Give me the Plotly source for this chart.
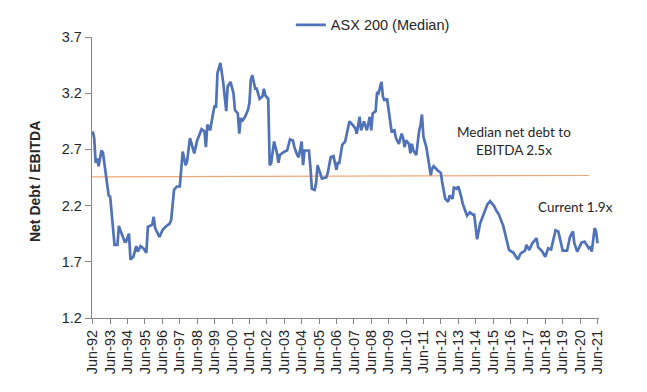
import plotly.graph_objects as go

dates = [
 "1992-06","1992-07","1992-08","1992-09","1992-10","1992-12","1993-01","1993-03","1993-05","1993-06",
 "1993-08","1993-09","1993-11","1993-12","1994-01","1994-04","1994-05","1994-07","1994-08","1994-10",
 "1994-12","1995-01","1995-03","1995-05","1995-07","1995-08","1995-11","1995-12","1996-01","1996-04",
 "1996-06","1996-08","1996-11","1996-12","1997-02","1997-04","1997-06","1997-08","1997-10","1997-11",
 "1998-01","1998-04","1998-06","1998-09","1998-11","1998-12","1999-01","1999-03","1999-04","1999-06",
 "1999-07","1999-08","1999-10","1999-12","2000-02","2000-03","2000-05","2000-07","2000-08","2000-10",
 "2000-11","2000-12","2001-01","2001-03","2001-05","2001-06","2001-07","2001-08","2001-10","2001-11",
 "2002-01","2002-03","2002-04","2002-05","2002-07","2002-08","2002-09","2002-11","2003-01","2003-02",
 "2003-03","2003-06","2003-08","2003-10","2003-12","2004-01","2004-03","2004-04","2004-06","2004-07",
 "2004-08","2004-11","2004-12","2005-01","2005-03","2005-04","2005-05","2005-07","2005-08","2005-11",
 "2005-12","2006-02","2006-04","2006-06","2006-07","2006-08","2006-10","2006-12","2007-03","2007-05",
 "2007-07","2007-08","2007-10","2007-11","2008-01","2008-03","2008-04","2008-05","2008-06","2008-07",
 "2008-09","2008-10","2008-11","2009-01","2009-02","2009-03","2009-05","2009-06","2009-07","2009-08",
 "2009-10","2009-11","2010-01","2010-03","2010-04","2010-05","2010-06","2010-08","2010-09","2010-10",
 "2010-11","2011-01","2011-03","2011-04","2011-05","2011-06","2011-08","2011-09","2011-11","2011-12",
 "2012-01","2012-04","2012-06","2012-07","2012-08","2012-09","2012-11","2012-12","2013-02","2013-03",
 "2013-05","2013-06","2013-08","2013-09","2013-11","2013-12","2014-02","2014-04","2014-05","2014-06",
 "2014-07","2014-09","2014-12","2015-02","2015-04","2015-07","2015-08","2015-10","2016-01","2016-03",
 "2016-05","2016-08","2016-11","2017-01","2017-04","2017-05","2017-07","2017-09","2017-12","2018-01",
 "2018-04","2018-06","2018-08","2018-10","2018-11","2019-01","2019-03","2019-05","2019-06","2019-09",
 "2019-11","2020-01","2020-02","2020-04","2020-06","2020-07","2020-09","2020-12","2021-01","2021-02",
 "2021-04","2021-05","2021-06",
]

asx200_median = [
 2.86,2.80,2.58,2.62,2.55,2.69,2.67,2.46,2.29,2.28,
 1.94,1.85,1.85,2.02,1.98,1.88,1.88,1.95,1.72,1.745,
 1.84,1.79,1.84,1.82,1.78,2.01,2.03,2.10,2.00,1.92,
 1.98,2.01,2.04,2.07,2.34,2.37,2.37,2.68,2.56,2.59,
 2.80,2.665,2.78,2.88,2.86,2.72,2.92,2.87,2.95,3.09,
 3.07,3.38,3.47,3.29,3.04,3.26,3.30,3.20,3.05,3.02,
 2.84,2.98,2.95,2.99,3.05,3.11,3.32,3.36,3.24,3.24,
 3.15,3.17,3.24,3.18,3.15,2.56,2.58,2.77,2.665,2.58,
 2.65,2.68,2.69,2.79,2.78,2.72,2.65,2.63,2.77,2.56,
 2.69,2.69,2.55,2.35,2.34,2.40,2.56,2.47,2.44,2.45,
 2.49,2.63,2.64,2.52,2.58,2.58,2.74,2.77,2.95,2.92,
 2.89,2.84,2.99,2.87,2.95,2.87,2.93,2.99,2.87,3.02,
 3.04,3.21,3.20,3.30,3.17,3.14,3.145,3.04,2.96,2.86,
 2.87,2.80,2.75,2.84,2.80,2.72,2.78,2.75,2.665,2.75,
 2.69,2.65,2.86,2.92,3.01,2.81,2.72,2.62,2.47,2.53,
 2.55,2.51,2.49,2.40,2.32,2.26,2.235,2.29,2.26,2.36,
 2.35,2.37,2.28,2.22,2.145,2.11,2.14,2.12,2.12,1.98,
 1.90,2.04,2.145,2.21,2.24,2.19,2.16,2.12,2.02,1.91,
 1.805,1.78,1.72,1.775,1.80,1.85,1.805,1.865,1.91,1.83,
 1.79,1.745,1.82,1.81,1.865,1.98,1.97,1.865,1.80,1.80,
 1.92,1.97,1.865,1.79,1.85,1.87,1.88,1.82,1.835,1.79,
 2.00,1.97,1.865,
]

median_line_dates = ["1992-05-18", "2020-12-05"]
median_line_values = [2.455, 2.468]

tick_dates = [f"{y}-06-01" for y in range(1992, 2022)]
tick_labels = ["Jun-92","Jun-93","Jun-94","Jun-95","Jun-96","Jun-97","Jun-98","Jun-99","Jun-00",
               "Jun-01","Jun-02","Jun-03","Jun-04","Jun-05","Jun-06","Jun-07","Jun-08","Jun-09",
               "Jun-10","Jun-11","Jun-12","Jun-13","Jun-14","Jun-15","Jun-16","Jun-17","Jun-18",
               "Jun-19","Jun-20","Jun-21"]
y_ticks = [1.2, 1.7, 2.2, 2.7, 3.2, 3.7]

x_dates = [d + "-01" for d in dates]

fig = go.Figure()
fig.add_trace(go.Scatter(
    x=median_line_dates, y=median_line_values, mode="lines",
    line=dict(color="#F2A77A", width=1.2), showlegend=False, hoverinfo="skip"))
fig.add_trace(go.Scatter(
    x=x_dates, y=asx200_median, mode="lines", name="ASX 200 (Median)",
    line=dict(color="#4F72B8", width=2.7)))

ARIAL = "Liberation Sans, Arial, sans-serif"
axis_font = dict(family=ARIAL, size=14.5, color="#262626")

# page has an 8px body margin; plot area target in screenshot: x 92..599.4, y 37..318
PW = 507.4
PH = 281.0

fig.update_layout(
    width=647, height=392,
    margin=dict(l=84, r=55.6, t=29, b=82, autoexpand=False),
    paper_bgcolor="white", plot_bgcolor="white",
    showlegend=True,
    legend=dict(orientation="h", x=(291 - 92) / PW, y=1.1, xanchor="left", yanchor="top",
                font=dict(family=ARIAL, size=14.5, color="#262626"),
                bgcolor="rgba(0,0,0,0)", itemwidth=30),
    xaxis=dict(
        type="date", range=["1992-05-16", "2021-07-02"], automargin=False,
        tickvals=tick_dates, ticktext=tick_labels, tickangle=-90,
        ticks="outside", ticklen=5, tickcolor="#868686",
        showline=True, linecolor="#868686", linewidth=1.3,
        showgrid=False, zeroline=False, tickfont=axis_font),
    yaxis=dict(
        range=[1.2, 3.7], tickvals=y_ticks, ticktext=[f"{v:.1f}" for v in y_ticks],
        automargin=False,
        ticks="outside", ticklen=6, tickcolor="#868686",
        showline=True, linecolor="#868686", linewidth=1.3,
        showgrid=False, zeroline=False, tickfont=axis_font),
    annotations=[
        dict(text="<b>Net Debt / EBITDA</b>", xref="paper", yref="paper",
             x=(35 - 92) / PW, y=(318 - 182) / PH, textangle=-90, showarrow=False,
             xanchor="center", yanchor="middle",
             font=dict(family=ARIAL, size=14, color="#262626")),
        dict(text="Median net debt to<br>EBITDA 2.5x", xref="paper", yref="paper",
             x=(514 - 92) / PW, y=(318 - 141) / PH, showarrow=False, align="center",
             xanchor="center", yanchor="middle",
             font=dict(family="Lato, sans-serif", size=13.5, color="#262626")),
        dict(text="Current 1.9x", xref="paper", yref="paper",
             x=(576 - 92) / PW, y=(318 - 207) / PH, showarrow=False,
             xanchor="center", yanchor="middle",
             font=dict(family="Lato, sans-serif", size=13.5, color="#262626")),
    ],
)

fig.write_html("out.html")
